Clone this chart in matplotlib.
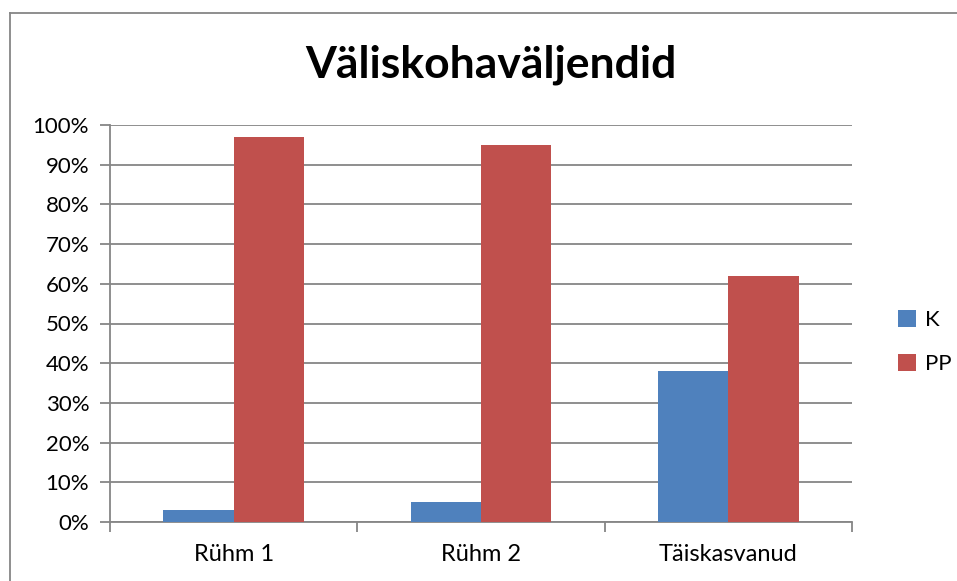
import numpy as np
import matplotlib.pyplot as plt
from matplotlib.lines import Line2D
from matplotlib.ticker import PercentFormatter

# andmed
categories = ['Rühm 1', 'Rühm 2', 'Täiskasvanud']
k_values = [3, 5, 38]
pp_values = [97, 95, 62]
series_names = ['K', 'PP']

plt.rcParams['font.family'] = ['Lato', 'DejaVu Sans']

fig = plt.figure(figsize=(9.57, 5.81), dpi=100)
ax = fig.add_axes([110 / 957, 1 - 522 / 581, 742 / 957, 397 / 581])

x = np.arange(len(categories))
w = 0.285
ax.bar(x - w / 2, k_values, w, color='#4F81BD', label=series_names[0], zorder=3)
ax.bar(x + w / 2, pp_values, w, color='#C0504D', label=series_names[1], zorder=3)

ax.set_xlim(-0.5, len(categories) - 0.5)
ax.set_ylim(0, 100)
ax.set_yticks(np.arange(0, 101, 10))
ax.yaxis.set_major_formatter(PercentFormatter(decimals=0))
ax.yaxis.grid(True, color='#868686', linewidth=1.3, zorder=0)

# kategooriate piirid x-teljel
ax.set_xticks(np.arange(-0.5, len(categories), 1))
ax.set_xticklabels([])
ax.set_xticks(x, minor=True)
ax.set_xticklabels(categories, minor=True)
ax.tick_params(axis='x', which='minor', length=0, pad=16, labelsize=17)
ax.tick_params(axis='x', which='major', length=7, color='#868686', width=1.3)
ax.tick_params(axis='y', length=7, color='#868686', width=1.3, labelsize=16, pad=8)

for s in ['top', 'right']:
    ax.spines[s].set_visible(False)
for s in ['left', 'bottom']:
    ax.spines[s].set_color('#868686')
    ax.spines[s].set_linewidth(1.3)

fig.text(491 / 957, 1 - 65 / 581, 'Väliskohaväljendid', ha='center', va='center',
         fontsize=32, fontweight='bold')

fig.legend(loc='center left', bbox_to_anchor=(878 / 957, 1 - 342 / 581), frameon=False,
           fontsize=16, handlelength=0.8, handleheight=0.8, handletextpad=0.4,
           labelspacing=1.1)

# raam
fig.add_artist(Line2D([10 / 957, 1], [1 - 13 / 581, 1 - 13 / 581], color='#868686', lw=1.3))
fig.add_artist(Line2D([10 / 957, 10 / 957], [0, 1 - 13 / 581], color='#868686', lw=1.3))

fig.savefig('out.png', dpi=100)
